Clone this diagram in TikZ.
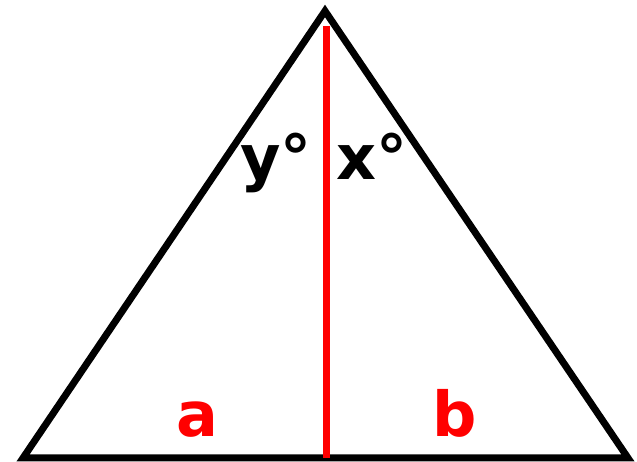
\documentclass[tikz,border=0pt]{standalone}
\usepackage{fontspec}
\setmainfont{DejaVu Sans}
\usetikzlibrary{positioning}

\begin{document}
\begin{tikzpicture}[x=1pt, y=1pt, line width=7pt]
  \tikzset{
    side/.style={draw=black, line join=miter},
    split/.style={draw=red},
    angle/.style={font=\fontsize{62}{62}\bfseries\selectfont, text=black, anchor=base},
    part/.style={font=\fontsize{62}{62}\bfseries\selectfont, text=red, anchor=base}
  }
  \useasboundingbox (0,0) rectangle (637,462);
  \coordinate (apex) at (325,451);
  \coordinate (left) at (23,4);
  \coordinate (right) at (628,4);
  \coordinate (top) at (326,436);
  \coordinate (foot) at (326,4);
  \draw[side] (apex) -- (left) -- (right) -- cycle;
  \draw[split] (top) -- (foot);
  \node[angle] (ylab) at (276,282) {y°};
  \node[angle] (xlab) at (372,282) {x°};
  \node[part] (alab) at (197,25) {a};
  \node[part] (blab) at (455,25) {b};
\end{tikzpicture}
\end{document}
